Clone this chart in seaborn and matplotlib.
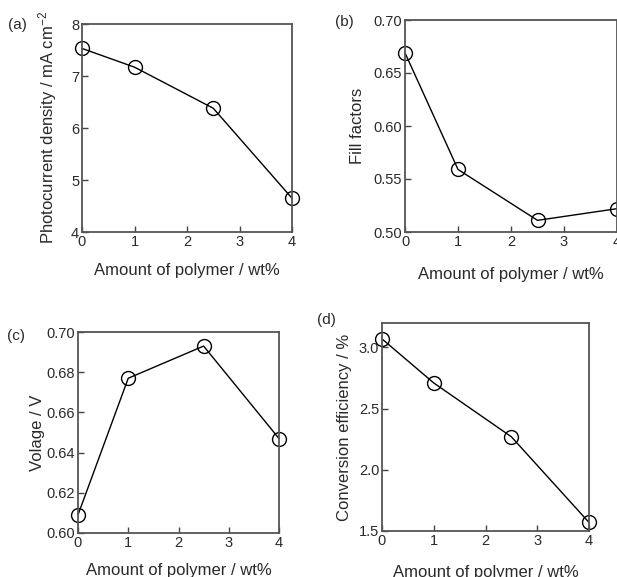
import numpy as np
import pandas as pd
import seaborn as sns
import matplotlib
matplotlib.use('Agg')
import matplotlib.pyplot as plt

# values
polymer = [0, 1, 2.5, 4]
photocurrent = [7.53, 7.17, 6.38, 4.65]
fill_factor = [0.669, 0.559, 0.511, 0.522]
voltage = [0.609, 0.677, 0.693, 0.647]
efficiency = [3.07, 2.71, 2.27, 1.57]

xlabel = 'Amount of polymer / wt%'

sns.set_style('ticks')
plt.rcParams['font.family'] = ['Liberation Sans', 'DejaVu Sans']
plt.rcParams['mathtext.fontset'] = 'custom'
plt.rcParams['mathtext.rm'] = 'Liberation Sans'
plt.rcParams['mathtext.default'] = 'regular'

W, H = 617, 577
fig = plt.figure(figsize=(W / 100, H / 100), dpi=100)


def px_axes(left, right, top, bottom):
    return fig.add_axes([left / W, (H - bottom) / H, (right - left) / W, (bottom - top) / H])


txt = '#2a2a2a'

panels = [
    # tag, values, ylabel, ylim, yticks, fmt, box (l, r, t, b), ylabel x px, xlabel y px, tag pos
    ('(a)', photocurrent, 'Photocurrent density / mA cm$^{-2}$', (4, 8), [4, 5, 6, 7, 8], '{:.0f}',
     (82, 292, 24, 232), 48, 270, (17, 25)),
    ('(b)', fill_factor, 'Fill factors', (0.50, 0.70), [0.50, 0.55, 0.60, 0.65, 0.70], '{:.2f}',
     (405, 617, 20, 232), 358, 275, (344, 22)),
    ('(c)', voltage, 'Volage / V', (0.60, 0.70), [0.60, 0.62, 0.64, 0.66, 0.68, 0.70], '{:.2f}',
     (78, 279, 332, 533), 38, 570, (16, 336)),
    ('(d)', efficiency, 'Conversion efficiency / %', (1.5, 3.2), [1.5, 2.0, 2.5, 3.0], '{:.1f}',
     (382, 589, 323, 531), 345, 572, (326, 320)),
]

for tag, vals, ylab, ylim, yticks, fmt, box, ylx, xly, tagpos in panels:
    l, r, t, b = box
    ax = px_axes(l, r, t, b)
    df = pd.DataFrame({'x': polymer, 'y': vals})
    sns.lineplot(data=df, x='x', y='y', ax=ax, color='black', linewidth=1.0,
                 marker='o', markersize=10, markerfacecolor='none',
                 markeredgecolor='black', markeredgewidth=1.0, clip_on=False)
    ax.set_xlim(0, 4)
    ax.set_ylim(*ylim)
    ax.set_xticks([0, 1, 2, 3, 4])
    ax.set_xticklabels([str(v) for v in [0, 1, 2, 3, 4]])
    ax.set_yticks(yticks)
    ax.set_yticklabels([fmt.format(v) for v in yticks])
    ax.tick_params(direction='in', length=4, width=1.0, color='#444444',
                   labelsize=10.5, labelcolor=txt, pad=2)
    for sp in ax.spines.values():
        sp.set_visible(True)
        sp.set_linewidth(1.3)
        sp.set_color('#555555')
    ax.set_xlabel(xlabel, fontsize=12, color=txt)
    ax.set_ylabel(ylab, fontsize=12, color=txt)
    aw, ah = r - l, b - t
    ax.xaxis.set_label_coords(0.5, -(xly - b) / ah)
    ax.xaxis.label.set_va('center')
    ax.yaxis.set_label_coords(-(l - ylx) / aw, 0.5)
    ax.yaxis.label.set_va('center')
    fig.text(tagpos[0] / W, 1 - tagpos[1] / H, tag, fontsize=11, color=txt,
             ha='center', va='center')

fig.savefig('out.png', dpi=100)
